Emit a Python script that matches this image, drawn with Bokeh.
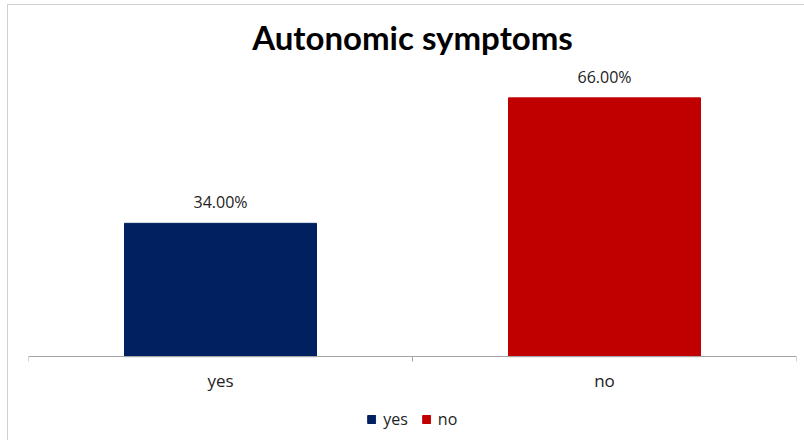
from bokeh.plotting import figure
from bokeh.models import ColumnDataSource, FixedTicker, Range1d, Legend, LegendItem, LabelSet
from bokeh.core.properties import value
from bokeh.embed import file_html
from bokeh.resources import INLINE

categories = ["yes", "no"]
values = [34.0, 66.0]
colors = ["#002060", "#C00000"]
title_text = "Autonomic symptoms"

xs = [i + 0.5 for i in range(len(categories))]
labels = [f"{v:.2f}%" for v in values]
src = ColumnDataSource(dict(x=xs, top=values, cat=categories, color=colors, label=labels))

# frame extends below the baseline so the legend can sit under the axis
p = figure(frame_width=768, frame_height=374, output_backend="svg", toolbar_location=None,
           x_range=Range1d(0, len(categories)), y_range=Range1d(-21.4, 74),
           min_border_left=20, min_border_right=9, min_border_top=0, min_border_bottom=0,
           title=title_text)
p.styles = {"margin-left": "7px", "margin-top": "4px",
            "border-left": "1px solid #D0D0D0", "border-top": "1px solid #D0D0D0"}
p.title.align = "center"
p.title.text_font = "Lato"
p.title.text_font_size = "33px"
p.title.text_font_style = "bold"
p.title.text_color = "black"
p.title.standoff = 19
p.title.offset = 0

p.outline_line_color = None
p.xgrid.visible = False
p.ygrid.visible = False
p.yaxis.visible = False

r = p.vbar(x="x", top="top", width=0.5, bottom=0, color="color", source=src)
lbl = LabelSet(x="x", y="top", text="label", source=src, text_align="center", text_baseline="bottom",
               y_offset=10, text_font=value("Open Sans"), text_font_size="16px",
               text_color="#222222", level="overlay")
p.add_layout(lbl)

ax = p.xaxis[0]
ax.fixed_location = 0
ax.ticker = FixedTicker(ticks=xs, minor_ticks=list(range(len(categories) + 1)))
ax.major_label_overrides = {x: c for x, c in zip(xs, categories)}
ax.major_tick_line_color = None
ax.minor_tick_in = 0
ax.minor_tick_out = 5
ax.minor_tick_line_color = "#A6A6A6"
ax.axis_line_color = "#A6A6A6"
ax.major_label_text_font = "Open Sans"
ax.major_label_text_font_size = "17px"
ax.major_label_text_color = "#222222"
ax.major_label_standoff = 6

items = [LegendItem(label=c, renderers=[r], index=i) for i, c in enumerate(categories)]
legend = Legend(items=items, orientation="horizontal", location="bottom_center",
                glyph_width=10, glyph_height=10, label_text_font="Open Sans",
                label_text_font_size="16px", label_text_color="#222222",
                border_line_color=None, background_fill_alpha=0,
                spacing=13, label_standoff=7, margin=10, padding=3)
p.add_layout(legend)

open("out.html", "w").write(file_html(p, INLINE))
